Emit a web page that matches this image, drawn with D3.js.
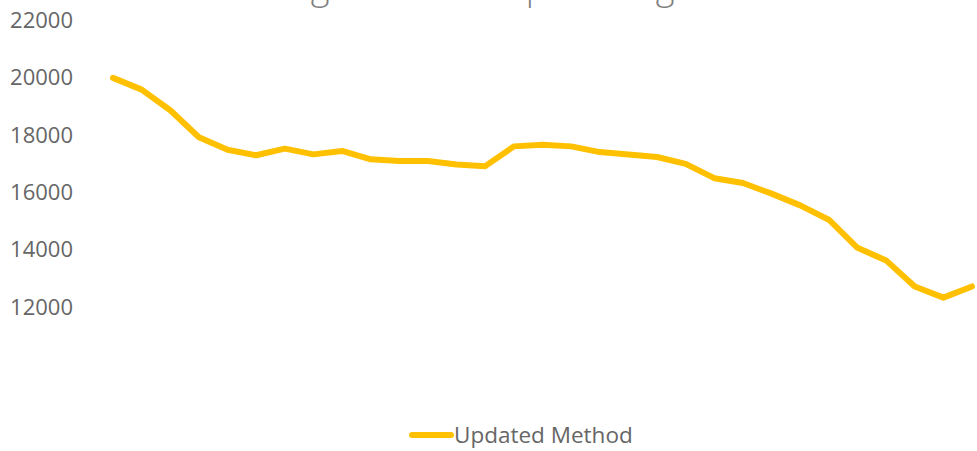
<!DOCTYPE html>
<html>
<head>
<meta charset="utf-8">
<script src="https://cdn.jsdelivr.net/npm/d3@7"></script>
<style>
  html, body { margin: 0; padding: 0; background: #fff; }
  svg { display: block; }
  text { font-family: "Open Sans", "Noto Sans", sans-serif; }
</style>
</head>
<body>
<svg id="chart" width="977" height="451"></svg>
<script>
const titleText = "Estimating Total Costs per Budget at Each Site";
const seriesName = "Updated Method";
const periods = d3.range(1, 32);
const values = [20000, 19590, 18870, 17930, 17490, 17300, 17530, 17330, 17450, 17160,
                17100, 17100, 16980, 16920, 17610, 17670, 17610, 17410, 17330, 17240,
                17000, 16500, 16330, 15960, 15550, 15050, 14070, 13630, 12720, 12330, 12720];
const yTicks = [12000, 14000, 16000, 18000, 20000, 22000];

const svg = d3.select("#chart");

const x = d3.scalePoint().domain(periods).range([113, 972]);
const y = d3.scaleLinear().domain([10000, 22000]).range([364.4, 20.6]);

// Title (clipped at top, as in the reference)
svg.append("text")
  .attr("x", 532).attr("y", -1.5)
  .attr("text-anchor", "middle")
  .attr("font-size", 36).attr("font-weight", 300)
  .attr("fill", "#7f7f7f")
  .text(titleText);

// Y axis
const yAxis = d3.axisLeft(y).tickValues(yTicks).tickSize(0).tickPadding(0).tickFormat(d3.format("d"));
const gy = svg.append("g").attr("transform", "translate(73,0)").call(yAxis);
gy.select(".domain").remove();
gy.selectAll("text")
  .attr("font-size", 22)
  .attr("fill", "#666666")
  .style("font-family", "'Open Sans', 'Noto Sans', sans-serif");

// Line
const line = d3.line().x((d, i) => x(periods[i])).y(d => y(d));
svg.append("path")
  .datum(values)
  .attr("d", line)
  .attr("fill", "none")
  .attr("stroke", "#FFC000")
  .attr("stroke-width", 6)
  .attr("stroke-linejoin", "round")
  .attr("stroke-linecap", "round");

// Legend
const lg = svg.append("g").attr("transform", "translate(0,435)");
lg.append("line")
  .attr("x1", 412).attr("x2", 451).attr("y1", 0).attr("y2", 0)
  .attr("stroke", "#FFC000").attr("stroke-width", 6).attr("stroke-linecap", "round");
lg.append("text")
  .attr("x", 454).attr("y", 0).attr("dy", "0.35em")
  .attr("font-size", 22.5).attr("fill", "#666666")
  .text(seriesName);
</script>
</body>
</html>
